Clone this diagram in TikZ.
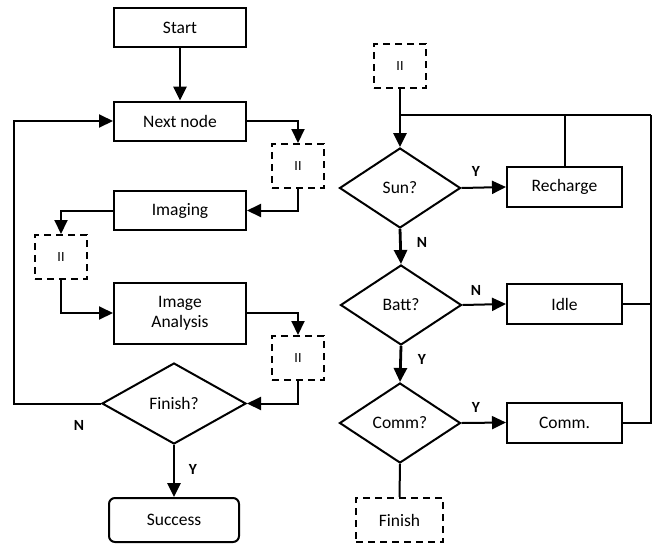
\documentclass[tikz,border=0pt]{standalone}
\usepackage{fontspec}
\setmainfont{Carlito}
\usetikzlibrary{shapes.geometric,arrows.meta}
\begin{document}
\begin{tikzpicture}[x=1pt,y=-1pt,
  every node/.style={font=\fontsize{17.5}{19}\selectfont},
  box/.style={draw,line width=2pt,rectangle,minimum width=132pt,minimum height=39pt,inner sep=0pt,align=center},
  sbox/.style={draw,line width=2pt,rectangle,minimum width=115pt,minimum height=40pt,inner sep=0pt},
  pbox/.style={draw,line width=2pt,dashed,dash pattern=on 7pt off 5pt,minimum width=52pt,minimum height=44pt,inner sep=0pt},
  dec/.style={draw,line width=2pt,diamond,inner sep=0pt,minimum width=144pt,minimum height=81pt},
  sdec/.style={draw,line width=2pt,diamond,inner sep=0pt,minimum width=121pt,minimum height=80pt},
  lab/.style={font=\fontsize{15.5}{17}\selectfont\bfseries},
  con/.style={line width=2pt},
  arr/.style={line width=2pt,-{Triangle[length=14pt,width=13pt]}},
  tarr/.style={line width=2.8pt,-{Triangle[length=14pt,width=13pt]}}
]
\useasboundingbox (0,0) rectangle (655,544);
% left column
\node[box] (start) at (180,27.5) {Start};
\node[box] (nn) at (180,121) {Next node};
\node[pbox,font=\fontsize{14}{16}\selectfont] (d1) at (298,166) {II};
\node[box] (img) at (180,210.5) {Imaging};
\node[pbox,font=\fontsize{14}{16}\selectfont] (d2) at (61,257) {II};
\node[box,minimum height=61pt] (ia) at (180,313) {Image\\[1pt]Analysis};
\node[pbox,font=\fontsize{14}{16}\selectfont] (d3) at (298,358) {II};
\node[dec] (fin) at (174,403.5) {Finish?};
\node[draw,line width=2pt,rounded corners=6pt,minimum width=130pt,minimum height=44pt,inner sep=0pt] (succ) at (174,520) {Success};
\coordinate (lb) at (14,403.5);
\coordinate (lt) at (14,121);

\draw[tarr] (start.south) -- (nn.north);
\draw[arr] (nn.east) -| (d1.north);
\draw[arr] (d1.south) |- (img.east);
\draw[arr] (img.west) -| (d2.north);
\draw[arr] (d2.south) |- (ia.west);
\draw[arr] (ia.east) -| (d3.north);
\draw[arr] (d3.south) |- (fin.east);
\draw[arr] (fin.west) -- (lb) -- (lt) -- (nn.west);
\draw[tarr] (fin.south) -- (succ.north);
\node[lab] (ln) at (79,425) {N};
\node[lab] (ly) at (193,469) {Y};

% right column
\node[pbox,font=\fontsize{14}{16}\selectfont] (t) at (400,66) {II};
\coordinate (j) at (400,115);
\coordinate (rc) at (651,115);
\node[sdec] (sun) at (400,188) {Sun?};
\node[sbox] (rec) at (564.5,187) {Recharge};
\node[sdec] (batt) at (401,305) {Batt?};
\node[sbox] (idle) at (564.5,304) {Idle};
\node[sdec] (comm) at (400,423) {Comm?};
\node[sbox] (cm) at (564.5,422.5) {Comm.};
\node[pbox,minimum width=87pt] (fn) at (399.5,520) {Finish};

\draw[con] (t.south) -- (j);
\draw[tarr] (j) -- (sun.north);
\draw[con] (j) -- (rc);
\draw[con] (rec.north) -- (rec.north |- j);
\draw[con] (cm.east) -| (rc);
\draw[con] (idle.east) -- (idle.east -| rc);
\draw[arr] (sun.east) -- (rec.west);
\draw[arr] (batt.east) -- (idle.west);
\draw[arr] (comm.east) -- (cm.west);
\draw[tarr] (sun.south) -- (batt.north);
\draw[tarr] (batt.south) -- (comm.north);
\draw[con] (comm.south) -- (fn.north);
\node[lab] (l1) at (476,171) {Y};
\node[lab] (l2) at (422,242) {N};
\node[lab] (l3) at (476,290) {N};
\node[lab] (l4) at (422,359) {Y};
\node[lab] (l5) at (476,407) {Y};
\end{tikzpicture}
\end{document}
